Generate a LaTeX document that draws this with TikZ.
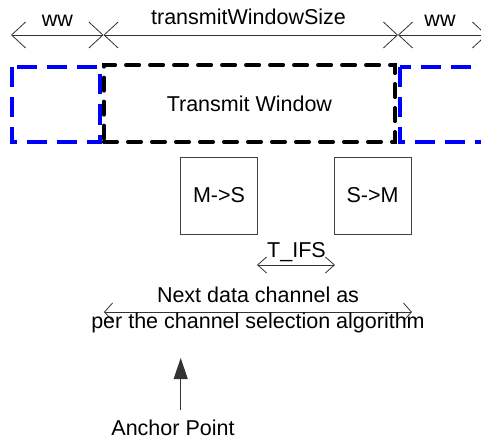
\documentclass[tikz,border=0pt]{standalone}
\usepackage{fontspec}
\setmainfont{Liberation Sans}
\usetikzlibrary{arrows.meta}
\begin{document}
\begin{tikzpicture}[x=1pt,y=-1pt,
  font=\fontsize{21.5}{25}\selectfont,
  lbl/.style={inner sep=0pt, anchor=base},
  dim/.style={draw=black!80, line width=0.8pt},
  dimbig/.style={dim, arrows={Straight Barb[length=14pt,width=26pt]-Straight Barb[length=14pt,width=26pt]}},
  dimsmall/.style={dim, arrows={Straight Barb[length=9pt,width=16pt]-Straight Barb[length=9pt,width=16pt]}},
  bluebox/.style={draw=blue, line width=4pt, dash pattern=on 20pt off 10pt},
  blackbox/.style={draw=black, line width=3.5pt, line cap=round, dash pattern=on 13.5pt off 10.5pt,
    minimum width=291.3pt, minimum height=77pt, inner sep=0pt},
  msgbox/.style={draw=black!75, line width=0.8pt, minimum width=77pt, minimum height=77pt, inner sep=0pt}
]
\useasboundingbox (0,0) rectangle (481,441);
\clip (0,0) rectangle (481,441);

% top dimension arrows
\coordinate (t0) at (11,35);
\coordinate (t1) at (103.5,35);
\coordinate (t2) at (398,35);
\coordinate (t3) at (487,35);
\draw[dimbig] (t0) -- (t1);
\draw[dimbig] (t1) -- (t2);
\draw[dimbig] (t2) -- (t3);
\node[lbl] (wwl) at (57.5,27) {ww};
\node[lbl] (tws) at (248.5,25) {transmitWindowSize};
\node[lbl] (wwr) at (440,27) {ww};

% windows
\draw[bluebox] (12,67) rectangle (99.5,142);
\draw[bluebox] (399.5,67) rectangle (510,142);
\node[blackbox] (tw) at (249.4,103.5) {Transmit Window};

% message boxes
\node[msgbox] (ms) at (219,195.5) {M->S};
\node[msgbox] (sm) at (372.5,195.5) {S->M};

% T_IFS
\node[lbl] (tifs) at (296.5,257) {T\_IFS};
\coordinate (i0) at (257,265);
\coordinate (i1) at (335,265);
\draw[dimsmall] (i0) -- (i1);

% next data channel
\node[lbl] (nd1) at (258,302) {Next data channel as};
\coordinate (n0) at (104,312);
\coordinate (n1) at (412,312);
\draw[dim, arrows={Straight Barb[length=8pt,width=18pt]-Straight Barb[length=8pt,width=18pt]}] (n0) -- (n1);
\node[lbl] (nd2) at (258,328) {per the channel selection algorithm};

% anchor point
\coordinate (a0) at (180.7,410);
\coordinate (a1) at (180.7,358);
\draw[draw=black!80, line width=0.8pt, -{Triangle[length=21pt,width=14pt]}] (a0) -- (a1);
\node[lbl] (ap) at (173,435.5) {Anchor Point};
\end{tikzpicture}
\end{document}
